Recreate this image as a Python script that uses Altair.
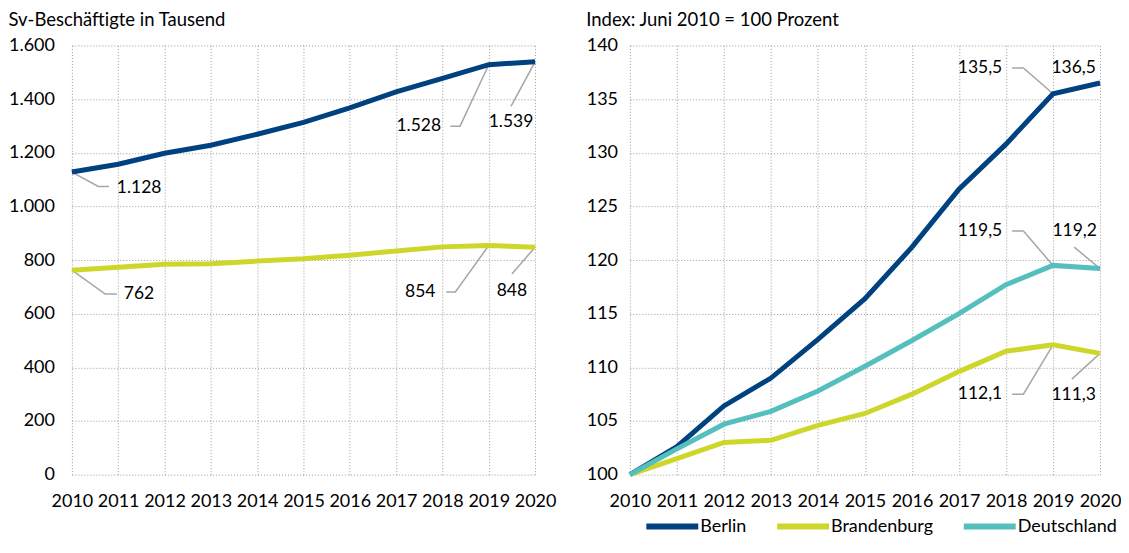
import altair as alt
import pandas as pd

# ---------------- data ----------------
years = list(range(2010, 2021))
regions = ["Berlin", "Brandenburg", "Deutschland"]
colors = ["#00427F", "#CDD72B", "#55BFBD"]

# left panel: employees (thousands)
berlin_abs = [1128, 1157, 1198, 1228, 1269, 1313, 1367, 1427, 1477, 1528, 1539]
brandenburg_abs = [762, 773, 784, 786, 796, 805, 818, 834, 849, 854, 848]

# right panel: index June 2010 = 100
berlin_idx = [100, 102.6, 106.4, 109.0, 112.6, 116.4, 121.2, 126.6, 130.8, 135.5, 136.5]
brandenburg_idx = [100, 101.5, 103.0, 103.2, 104.6, 105.7, 107.5, 109.6, 111.5, 112.1, 111.3]
deutschland_idx = [100, 102.4, 104.7, 105.9, 107.8, 110.1, 112.5, 115.0, 117.7, 119.5, 119.2]

left_ticks = [0, 200, 400, 600, 800, 1000, 1200, 1400, 1600]
right_ticks = [100, 105, 110, 115, 120, 125, 130, 135, 140]

# value labels (text, year position, value position, alignment)
left_label_text = ["1.128", "762", "1.528", "854", "1.539", "848"]
left_label_x = [2010.97, 2011.12, 2017.97, 2017.85, 2019.48, 2019.5]
left_label_y = [1068, 673, 1299, 681, 1313, 685]
left_label_align = ["left", "left", "right", "right", "center", "center"]

right_label_text = ["135,5", "136,5", "119,5", "119,2", "112,1", "111,3"]
right_label_x = [2017.92, 2019.44, 2017.92, 2019.46, 2017.92, 2019.44]
right_label_y = [137.9, 137.9, 122.7, 122.7, 107.5, 107.4]
right_label_align = ["right", "center", "right", "center", "right", "center"]

# leader lines (id, year, value)
left_leader_id = ["a", "a", "a", "b", "b", "b", "c", "c", "c", "d", "d", "d", "e", "e", "f", "f"]
left_leader_x = [2010, 2010.57, 2010.8, 2010, 2010.72, 2010.97,
                 2018.17, 2018.38, 2019, 2018.08, 2018.28, 2019,
                 2019.48, 2020, 2019.5, 2020]
left_leader_y = [1128, 1074, 1074, 762, 673, 673,
                 1299, 1299, 1528, 681, 681, 854,
                 1373, 1539, 748, 848]

right_leader_id = ["a", "a", "a", "b", "b", "b", "c", "c", "c", "d", "d", "e", "e"]
right_leader_x = [2018.13, 2018.37, 2019, 2018.13, 2018.37, 2019,
                  2018.13, 2018.37, 2019, 2019.45, 2020, 2019.4, 2020]
right_leader_y = [137.9, 137.9, 135.5, 122.7, 122.7, 119.5,
                  107.5, 107.5, 112.1, 121.2, 119.2, 108.9, 111.3]

# ---------------- frames ----------------
df_left = pd.DataFrame({
    "year": years * 2,
    "value": berlin_abs + brandenburg_abs,
    "region": ["Berlin"] * 11 + ["Brandenburg"] * 11,
})
df_right = pd.DataFrame({
    "year": years * 3,
    "value": berlin_idx + brandenburg_idx + deutschland_idx,
    "region": ["Berlin"] * 11 + ["Brandenburg"] * 11 + ["Deutschland"] * 11,
})
df_left_lab = pd.DataFrame({"text": left_label_text, "year": left_label_x,
                            "value": left_label_y, "align": left_label_align})
df_right_lab = pd.DataFrame({"text": right_label_text, "year": right_label_x,
                             "value": right_label_y, "align": right_label_align})
df_left_lead = pd.DataFrame({"id": left_leader_id, "year": left_leader_x,
                             "value": left_leader_y, "order": list(range(len(left_leader_id)))})
df_right_lead = pd.DataFrame({"id": right_leader_id, "year": right_leader_x,
                              "value": right_leader_y, "order": list(range(len(right_leader_id)))})

FONT = "Lato"
GRID = "#9a9a9a"

color_scale = alt.Scale(domain=regions, range=colors)
right_legend = alt.Legend(
    orient="none", legendX=33.5, legendY=473, direction="horizontal",
    title=None, symbolType="M-6.5,0H6.5", symbolSize=64, symbolStrokeWidth=6,
    labelFontSize=18, labelFont=FONT, labelColor="#000000", labelOffset=19,
    columnPadding=18, padding=0, gridAlign="none",
)

x_enc = alt.X("year:Q",
              scale=alt.Scale(domain=[2010, 2020], nice=False, zero=False),
              axis=alt.Axis(values=years, format="d", title=None, labelPadding=18,
                            ticks=False, tickSize=0, domain=False, grid=True,
                            labelFlush=False))


def panel(df, df_lab, df_lead, domain, ticks, label_expr, width, title_text, legend, lpad):
    y_enc = alt.Y("value:Q", scale=alt.Scale(domain=domain, nice=False, zero=False),
                  axis=alt.Axis(values=ticks, title=None, labelPadding=lpad, ticks=False,
                                tickSize=0, domain=False, grid=True, labelExpr=label_expr))
    leaders = alt.Chart(df_lead).mark_line(color="#a6a6a6", strokeWidth=1.5).encode(
        x=x_enc, y=y_enc, detail="id:N", order="order:Q")
    lines = alt.Chart(df).mark_line(strokeWidth=5).encode(
        x=x_enc, y=y_enc,
        color=alt.Color("region:N", scale=color_scale, legend=legend))
    texts = []
    for al in ["left", "right", "center"]:
        sub = df_lab[df_lab["align"] == al]
        if len(sub):
            texts.append(alt.Chart(sub).mark_text(align=al, baseline="middle", font=FONT,
                                                  fontSize=17.5, color="#000000").encode(
                x=x_enc, y=y_enc, text="text:N"))
    return alt.layer(leaders, lines, *texts).properties(
        width=width, height=430,
        title=alt.TitleParams(title_text, anchor="start", frame="bounds"))


left = panel(df_left, df_left_lab, df_left_lead, [0, 1600], left_ticks,
             "replace(format(datum.value, ','), ',', '.')", 464,
             "Sv-Beschäftigte in Tausend", None, 17.5)
right = panel(df_right, df_right_lab, df_right_lead, [100, 140], right_ticks,
              "format(datum.value, 'd')", 471, "Index: Juni 2010 = 100 Prozent",
              right_legend, 12.4)

chart = alt.hconcat(left, right, spacing=30).resolve_scale(
    color="independent", x="independent", y="independent"
).resolve_legend(color="independent").properties(
    padding={"left": 0, "top": 2, "right": 0, "bottom": 0}
).configure_view(stroke=None).configure_axis(
    labelFont=FONT, labelFontSize=18, labelColor="#000000",
    gridColor=GRID, gridDash=[1, 2], gridWidth=1,
).configure_title(
    font=FONT, fontSize=18.5, fontWeight="normal", color="#000000", offset=7
)

chart.save("out.html", embed_options={"renderer": "svg", "actions": False})
